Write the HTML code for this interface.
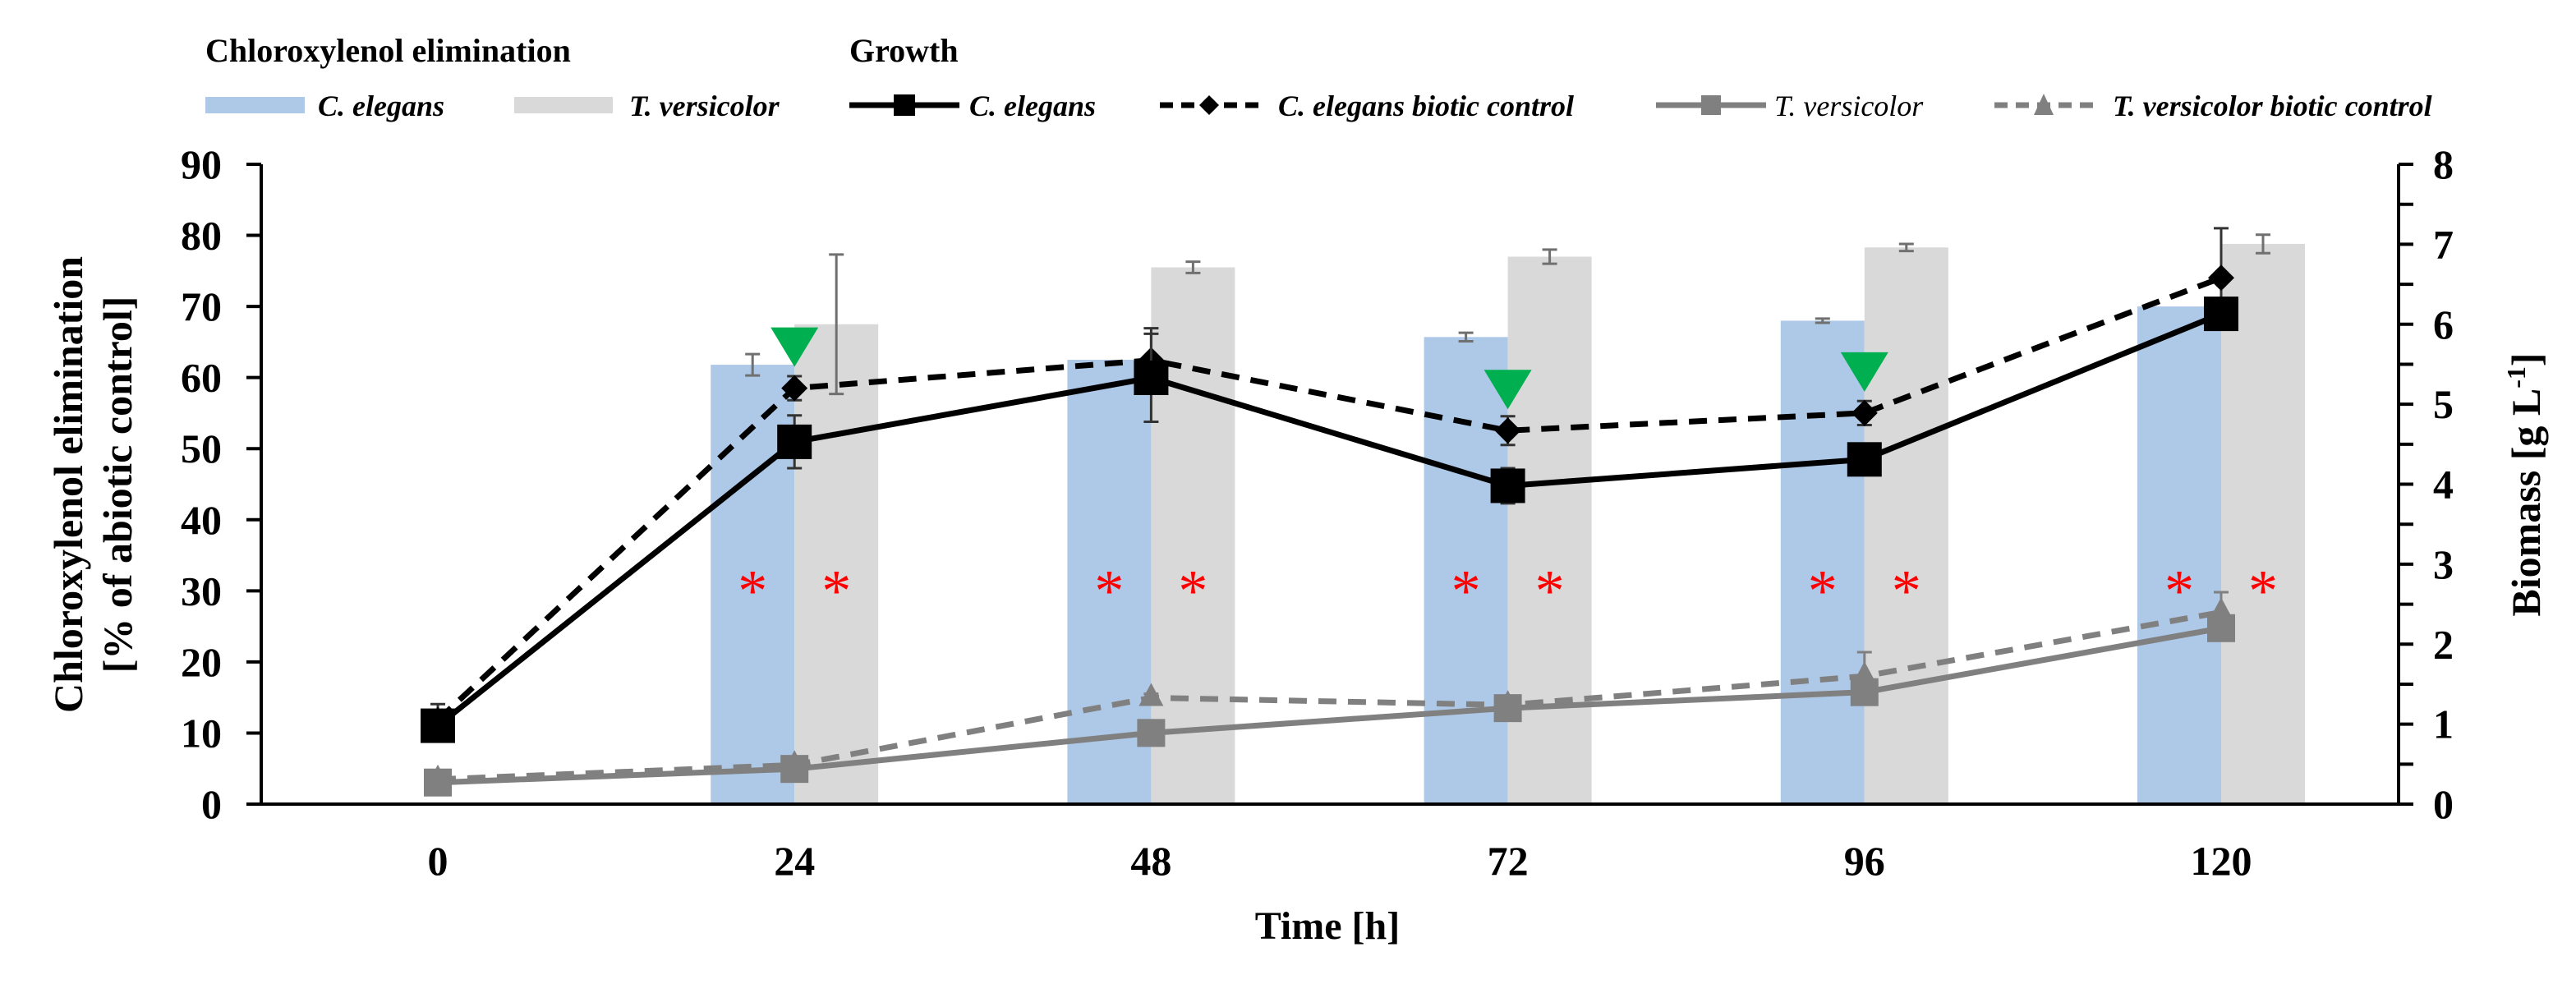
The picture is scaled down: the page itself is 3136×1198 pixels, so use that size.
<!DOCTYPE html>
<html><head><meta charset="utf-8"><style>
html,body{margin:0;padding:0;background:#fff;}
svg, svg text{font-family:"Liberation Serif","DejaVu Serif","Times New Roman",serif;}
svg{display:block;}
</style></head><body>
<svg id="chart" width="3136" height="1198" viewBox="0 0 3136 1198" xmlns="http://www.w3.org/2000/svg" font-family="Liberation Serif, DejaVu Serif, serif">
<g id="legend">
<text x="250" y="75" font-size="40" font-weight="bold">Chloroxylenol elimination</text>
<text x="1034" y="75" font-size="40" font-weight="bold">Growth</text>
<g><rect x="250" y="118" width="121" height="20" fill="#aec8e8"/><text x="387" y="141" font-size="36" font-style="italic" font-weight="bold">C. elegans</text></g>
<g><rect x="626" y="118" width="120" height="20" fill="#d9d9d9"/><text x="766" y="141" font-size="36" font-style="italic" font-weight="bold">T. versicolor</text></g>
<g><line x1="1034" y1="128" x2="1168" y2="128" stroke="#000" stroke-width="7"/><rect x="1088" y="115" width="26" height="26" fill="#000"/><text x="1180" y="141" font-size="36" font-style="italic" font-weight="bold">C. elegans</text></g>
<g><line x1="1412" y1="128" x2="1532" y2="128" stroke="#000" stroke-width="7" stroke-dasharray="16,10"/><path d="M1472 116 L1484 128 L1472 140 L1460 128Z" fill="#000"/><text x="1556" y="141" font-size="36" font-style="italic" font-weight="bold">C. elegans biotic control</text></g>
<g><line x1="2016" y1="128" x2="2150" y2="128" stroke="#808080" stroke-width="7"/><rect x="2071" y="116" width="24" height="24" fill="#808080"/><text x="2160" y="141" font-size="36" font-style="italic">T. versicolor</text></g>
<g><line x1="2428" y1="128" x2="2548" y2="128" stroke="#808080" stroke-width="7" stroke-dasharray="16,10"/><path d="M2488 114 L2500 140 L2476 140Z" fill="#808080"/><text x="2572" y="141" font-size="36" font-style="italic" font-weight="bold">T. versicolor biotic control</text></g>
</g>
<g id="plot"></g>
<text x="1616" y="1143" font-size="48" font-weight="bold" text-anchor="middle">Time [h]</text>
<text transform="translate(100,590) rotate(-90)" font-size="50" font-weight="bold" text-anchor="middle">Chloroxylenol elimination</text>
<text transform="translate(160,590) rotate(-90)" font-size="50" font-weight="bold" text-anchor="middle">[% of abiotic control]</text>
<text transform="translate(3092,590) rotate(-90)" font-size="50" font-weight="bold" text-anchor="middle">Biomass [g L<tspan baseline-shift="super" font-size="32">-1</tspan>]</text>
</svg>
<script>
const categories = ["0","24","48","72","96","120"];
const elimCE = [0, 61.8, 62.5, 65.7, 68.0, 70.0];
const elimCEerr = [0, 1.5, 0, 0.6, 0.3, 0];
const elimTV = [0, 67.5, 75.5, 77.0, 78.3, 78.8];
const elimTVerr = [0, 9.8, 0.8, 1.0, 0.5, 1.3];
const growthCE = [0.98, 4.53, 5.33, 3.98, 4.31, 6.13];
const growthCEerr = [0.1, 0.33, 0.55, 0.22, 0.1, 0.1];
const growthCEbio = [1.05, 5.2, 5.55, 4.67, 4.89, 6.58];
const growthCEbioErr = [0.2, 0.15, 0.4, 0.18, 0.15, 0.62];
const growthTV = [0.27, 0.44, 0.89, 1.2, 1.4, 2.2];
const growthTVbio = [0.31, 0.49, 1.33, 1.24, 1.6, 2.4];
const growthTVbioErr = [0.05, 0.05, 0.05, 0.05, 0.3, 0.25];
const leftTicks = [0,10,20,30,40,50,60,70,80,90];
const rightTicks = [0,1,2,3,4,5,6,7,8];
const inoculationIdx = [1,3,4];
const significanceIdx = [1,2,3,4,5];

const NS="http://www.w3.org/2000/svg";
const g=document.getElementById('plot');
const X0=533, DX=434.2, YB=979, YT=200;
const xc=i=>X0+i*DX;
const yL=v=>YB-(v/90)*(YB-YT);
const yR=v=>YB-(v/8)*(YB-YT);
function mk(tag,attrs,parent){const e=document.createElementNS(NS,tag);for(const k in attrs)e.setAttribute(k,attrs[k]);(parent||g).appendChild(e);return e;}
const BW=102;
elimCE.forEach((v,i)=>{
  const r=mk('rect',{x:xc(i)-BW,y:yL(v),width:BW,height:YB-yL(v),fill:'#aec8e8'});
  
  
});
elimTV.forEach((v,i)=>{
  const r=mk('rect',{x:xc(i),y:yL(v),width:BW,height:YB-yL(v),fill:'#d9d9d9'});
  
  
});
function errbar(x,yc,lo,hi,col,name){
  const eg=mk('g',{stroke:col,'stroke-width':3});
  
  
  mk('line',{x1:x,y1:lo,x2:x,y2:hi},eg);
  mk('line',{x1:x-9,y1:lo,x2:x+9,y2:lo},eg);
  mk('line',{x1:x-9,y1:hi,x2:x+9,y2:hi},eg);
}
elimCE.forEach((v,i)=>{if(elimCEerr[i]>0)errbar(xc(i)-BW/2,0,yL(v-elimCEerr[i]),yL(v+elimCEerr[i]),'#707070','errorbar-c-elegans-'+categories[i]);});
elimTV.forEach((v,i)=>{if(elimTVerr[i]>0)errbar(xc(i)+BW/2,0,yL(v-elimTVerr[i]),yL(v+elimTVerr[i]),'#707070','errorbar-t-versicolor-'+categories[i]);});
significanceIdx.forEach(i=>{
  [xc(i)-BW/2,xc(i)+BW/2].forEach((x,k)=>{
    const t=mk('text',{x:x,y:yL(30)+24,'font-size':72,fill:'#ff0000','text-anchor':'middle'});
    t.textContent='*';
    
    
  });
});
function series(vals,col,dash,name){
  const pts=vals.map((v,i)=>xc(i)+','+yR(v)).join(' ');
  const p=mk('polyline',{points:pts,fill:'none',stroke:col,'stroke-width':7,'stroke-dasharray':dash||'none'});
  
  
}
series(growthTVbio,'#808080','22,14','line-t-versicolor-biotic');
series(growthTV,'#808080',null,'line-t-versicolor');
series(growthCEbio,'#000','22,14','line-c-elegans-biotic');
series(growthCE,'#000',null,'line-c-elegans');
growthTVbio.forEach((v,i)=>{
  errbar(xc(i),0,yR(v-growthTVbioErr[i]),yR(v+growthTVbioErr[i]),'#808080','errorbar-tv-biotic-'+categories[i]);
  const m=mk('path',{d:`M${xc(i)} ${yR(v)-18} L${xc(i)+15} ${yR(v)+10} L${xc(i)-15} ${yR(v)+10}Z`,fill:'#808080'});
  
  
});
growthTV.forEach((v,i)=>{
  const m=mk('rect',{x:xc(i)-17,y:yR(v)-17,width:34,height:34,fill:'#808080'});
  
  
});
growthCEbio.forEach((v,i)=>{
  errbar(xc(i),0,yR(v-growthCEbioErr[i]),yR(v+growthCEbioErr[i]),'#333','errorbar-ce-biotic-'+categories[i]);
  const m=mk('path',{d:`M${xc(i)} ${yR(v)-16} L${xc(i)+16} ${yR(v)} L${xc(i)} ${yR(v)+16} L${xc(i)-16} ${yR(v)}Z`,fill:'#000'});
  
  
});
growthCE.forEach((v,i)=>{
  errbar(xc(i),0,yR(v-growthCEerr[i]),yR(v+growthCEerr[i]),'#333','errorbar-ce-'+categories[i]);
  const m=mk('rect',{x:xc(i)-21,y:yR(v)-21,width:42,height:42,fill:'#000'});
  
  
});
inoculationIdx.forEach(i=>{
  const tip=yR(growthCEbio[i])-26;
  const m=mk('path',{d:`M${xc(i)-29} ${tip-48} L${xc(i)+29} ${tip-48} L${xc(i)} ${tip}Z`,fill:'#00b050'});
  
  
});
const ax=mk('g',{stroke:'#000','stroke-width':4});


mk('line',{x1:318,y1:YT,x2:318,y2:YB},ax);
mk('line',{x1:2920,y1:YT,x2:2920,y2:YB},ax);
mk('line',{x1:300,y1:YB,x2:2938,y2:YB},ax);
leftTicks.forEach(v=>{
  mk('line',{x1:300,y1:yL(v),x2:318,y2:yL(v)},ax);
  const t=mk('text',{x:270,y:yL(v)+17,'font-size':50,'font-weight':'bold','text-anchor':'end'});
  t.textContent=v;
  
  
});
for(let v=0;v<=8;v+=0.5){mk('line',{x1:2920,y1:yR(v),x2:2938,y2:yR(v)},ax);}
rightTicks.forEach(v=>{
  const t=mk('text',{x:2962,y:yR(v)+17,'font-size':50,'font-weight':'bold'});
  t.textContent=v;
  
  
});
categories.forEach((c,i)=>{
  const t=mk('text',{x:xc(i),y:1065,'font-size':50,'font-weight':'bold','text-anchor':'middle'});
  t.textContent=c;
  
  
});
</script>
</body></html>
